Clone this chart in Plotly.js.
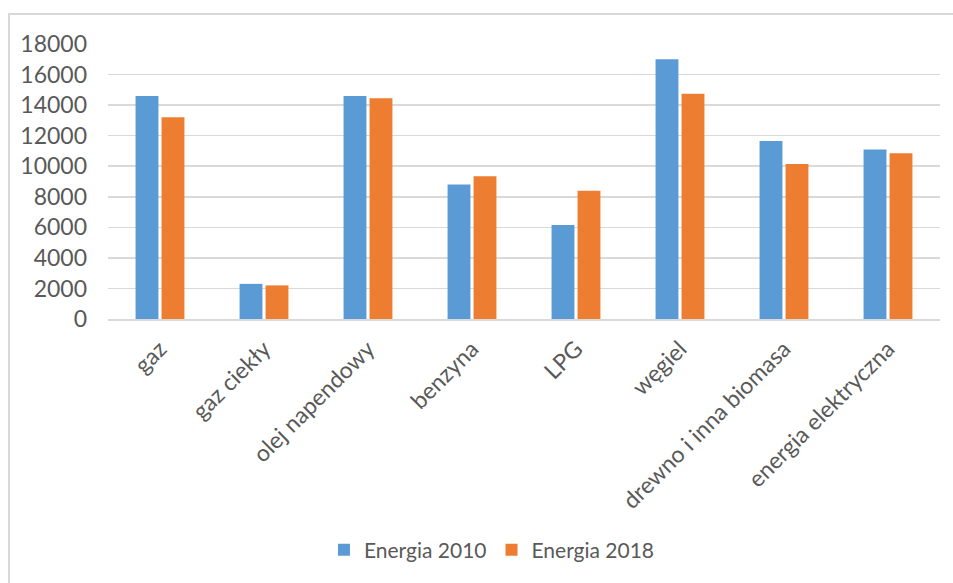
<!DOCTYPE html>
<html>
<head>
<meta charset="utf-8">
<script src="https://cdn.plot.ly/plotly-3.0.1.min.js"></script>
<style>
  html, body { margin: 0; padding: 0; background: #ffffff; }
  #wrap { position: relative; width: 953px; height: 583px; overflow: hidden; }
  #chart { position: absolute; left: 0; top: 0; width: 953px; height: 583px; }
  #frame {
    position: absolute; left: 8px; top: 13px; right: -4px; bottom: -4px;
    border-left: 2px solid #d9d9d9; border-top: 2px solid #d9d9d9;
    pointer-events: none;
  }
</style>
</head>
<body>
<div id="wrap">
  <div id="chart"></div>
  <div id="frame"></div>
</div>
<script>
// Energy carriers on the category axis
const categories = [
  "gaz", "gaz ciekły", "olej napendowy", "benzyna",
  "LPG", "węgiel", "drewno i inna biomasa", "energia elektryczna"
];

// Values for each year
const energia2010 = [14600, 2300, 14600, 8800, 6150, 17000, 11650, 11100];
const energia2018 = [13200, 2200, 14450, 9350, 8400, 14750, 10150, 10850];

// Series names shown in the legend
const seriesNames = ["Energia 2010", "Energia 2018"];

// Y axis ticks
const yTicks = [0, 2000, 4000, 6000, 8000, 10000, 12000, 14000, 16000, 18000];

const FONT = "Lato, 'Open Sans', sans-serif";
const TEXT_COLOR = "#595959";

const traces = [
  {
    type: "bar",
    name: seriesNames[0],
    x: categories,
    y: energia2010,
    marker: { color: "#5B9BD5" },
    hoverinfo: "x+y+name"
  },
  {
    type: "bar",
    name: seriesNames[1],
    x: categories,
    y: energia2018,
    marker: { color: "#ED7D31" },
    hoverinfo: "x+y+name"
  }
];

const layout = {
  width: 953,
  height: 583,
  margin: { l: 108, r: 13, t: 44, b: 264 },
  paper_bgcolor: "#ffffff",
  plot_bgcolor: "#ffffff",
  font: { family: FONT, size: 23, color: TEXT_COLOR },
  barmode: "group",
  bargap: 0.5,
  bargroupgap: 0.12,
  showlegend: true,
  legend: {
    orientation: "h",
    x: 0.4615,
    xanchor: "center",
    y: -0.84,
    yanchor: "middle",
    font: { family: FONT, size: 21, color: TEXT_COLOR },
    itemwidth: 30,
    traceorder: "normal"
  },
  xaxis: {
    type: "category",
    tickangle: -45,
    showgrid: false,
    showline: true,
    linecolor: "#d9d9d9",
    linewidth: 1.5,
    ticks: "",
    ticklabelstandoff: 6,
    tickfont: { family: FONT, size: 23, color: TEXT_COLOR },
    fixedrange: true
  },
  yaxis: {
    range: [0, 18000],
    tickvals: yTicks,
    ticktext: yTicks.map(String),
    showgrid: true,
    gridcolor: "#d9d9d9",
    gridwidth: 1.5,
    zeroline: false,
    showline: false,
    ticks: "",
    ticklabelstandoff: 20,
    tickfont: { family: FONT, size: 23, color: TEXT_COLOR },
    fixedrange: true
  }
};

Plotly.newPlot("chart", traces, layout, { displayModeBar: false, staticPlot: true });
</script>
</body>
</html>
